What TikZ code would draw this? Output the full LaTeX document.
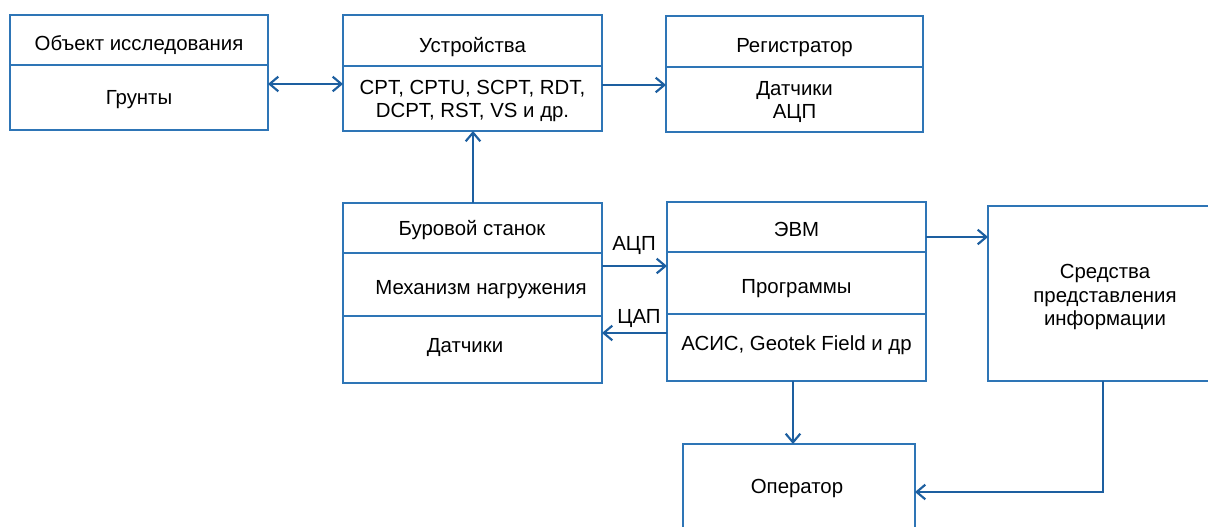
\documentclass[tikz,border=0pt]{standalone}
\usepackage{fontspec}
\setmainfont{Liberation Sans}
\usetikzlibrary{arrows.meta}
\definecolor{boxblue}{HTML}{2E75B6}
\definecolor{arrblue}{HTML}{1D5FA0}
\tikzset{
  boxst/.style={draw=boxblue, line width=1.4pt, inner sep=0pt, outer sep=0pt, anchor=north west},
  divline/.style={draw=boxblue, line width=1.2pt},
  txt/.style={inner sep=0pt, align=center, yshift=-1.6pt, font=\fontsize{15.3}{17.4}\selectfont},
  barb/.tip={Straight Barb[length=6.5pt,width=11pt,line width=1.6pt]},
  conn/.style={draw=arrblue, line width=1.5pt, -barb},
  conn2/.style={draw=arrblue, line width=1.5pt, barb-barb}
}
\newcommand{\pxbox}[5]{\node[boxst, minimum width={(#4-#2)*0.75pt}, minimum height={(#5-#3)*0.75pt}] (#1) at (#2,#3) {};}
\begin{document}
\begin{tikzpicture}[x=0.75pt,y=-0.75pt]
\clip (0,0) rectangle (1208,527);
\fill[white] (0,0) rectangle (1208,527);
% boxes
\pxbox{b1}{10}{15}{268}{130}
\pxbox{b2}{343}{15}{602}{131}
\pxbox{b3}{666}{16}{923}{132}
\pxbox{b4}{343}{203}{602}{383}
\pxbox{b5}{667}{202}{926}{381}
\pxbox{b6}{988}{206}{1230}{381}
\pxbox{b7}{683}{444}{915}{560}
% dividers
\draw[divline] (b1.west |- 0,65) -- (b1.east |- 0,65);
\draw[divline] (b2.west |- 0,66) -- (b2.east |- 0,66);
\draw[divline] (b3.west |- 0,67) -- (b3.east |- 0,67);
\draw[divline] (b4.west |- 0,253) -- (b4.east |- 0,253);
\draw[divline] (b4.west |- 0,316) -- (b4.east |- 0,316);
\draw[divline] (b5.west |- 0,252) -- (b5.east |- 0,252);
\draw[divline] (b5.west |- 0,314) -- (b5.east |- 0,314);
% texts
\node[txt] (t1a) at (139,43) {Объект исследования};
\node[txt] (t1b) at (139,97) {Грунты};
\node[txt] (t2a) at (472.5,45) {Устройства};
\node[txt] (t2b) at (472.5,98.5) {CPT, CPTU, SCPT, RDT,\\DCPT, RST, VS и др.};
\node[txt] (t3a) at (794.5,45) {Регистратор};
\node[txt] (t3b) at (794.5,100) {Датчики\\АЦП};
\node[txt] (t4a) at (472,228) {Буровой станок};
\node[txt] (t4b) at (481,287) {Механизм нагружения};
\node[txt] (t4c) at (465,345) {Датчики};
\node[txt] (t5a) at (796.5,227) {ЭВМ};
\node[txt] (t5b) at (796.5,286) {Программы};
\node[txt] (t5c) at (796.5,343) {АСИС, Geotek Field и др};
\node[txt] (t6) at (1105,295) {Средства\\представления\\информации};
\node[txt] (t7) at (797,486) {Оператор};
\node[txt] (lA) at (634,243) {АЦП};
\node[txt] (lC) at (639,316) {ЦАП};
% connectors
\draw[conn2] (b1.east |- 0,84) -- (b2.west |- 0,84);
\draw[conn] (b2.east |- 0,85) -- (b3.west |- 0,85);
\draw[conn] (b4.north -| 473,0) -- (b2.south -| 473,0);
\draw[conn] (b4.east |- 0,266) -- (b5.west |- 0,266);
\draw[conn] (b5.west |- 0,333) -- (b4.east |- 0,333);
\draw[conn] (b5.east |- 0,237) -- (b6.west |- 0,237);
\draw[conn] (b5.south -| 793,0) -- (b7.north -| 793,0);
\draw[conn] (b6.south -| 1103,0) |- (b7.east |- 0,492);
\end{tikzpicture}
\end{document}
